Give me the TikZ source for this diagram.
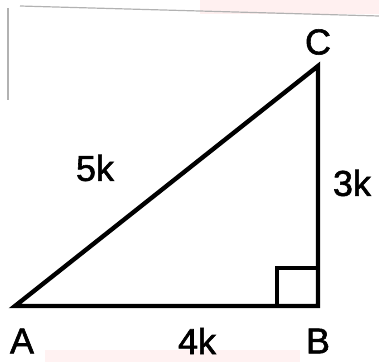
\documentclass[tikz,border=0pt]{standalone}
\usepackage{fontspec}
\setmainfont{Liberation Sans}
\newfontfamily\lblfont{Liberation Sans}[FakeBold=1.6]
\begin{document}
\begin{tikzpicture}[x=1pt,y=-1pt,
  side/.style={line width=4.4pt,line join=miter,line cap=round},
  lbl/.style={font=\lblfont\fontsize{36}{40}\selectfont,inner sep=0pt},
  edge/.style={line width=1.2pt,gray!60}]
\useasboundingbox (0,0) rectangle (379,362);
\fill[red!6] (200,0) rectangle (379,14);
\fill[red!5] (45,350) rectangle (300,362);
\draw[edge] (20,6) -- (379,16);
\draw[edge] (8,8) -- (8,100);
\coordinate (A) at (15,306);
\coordinate (B) at (318,306);
\coordinate (C) at (318,66);
\draw[side] (A) -- (B) -- (C) -- cycle;
\coordinate (P) at (277,306);
\coordinate (Q) at (277,268);
\coordinate (R) at (318,268);
\draw[line width=3.6pt] (P) -- (Q) -- (R);
\node[lbl] (lC) at (318,42) {C};
\node[lbl] (lA) at (22,341) {A};
\node[lbl] (lB) at (318,341) {B};
\node[lbl] (l4) at (197,341) {4k};
\node[lbl] (l5) at (95,168) {5k};
\node[lbl] (l3) at (352,183) {3k};
\end{tikzpicture}
\end{document}
